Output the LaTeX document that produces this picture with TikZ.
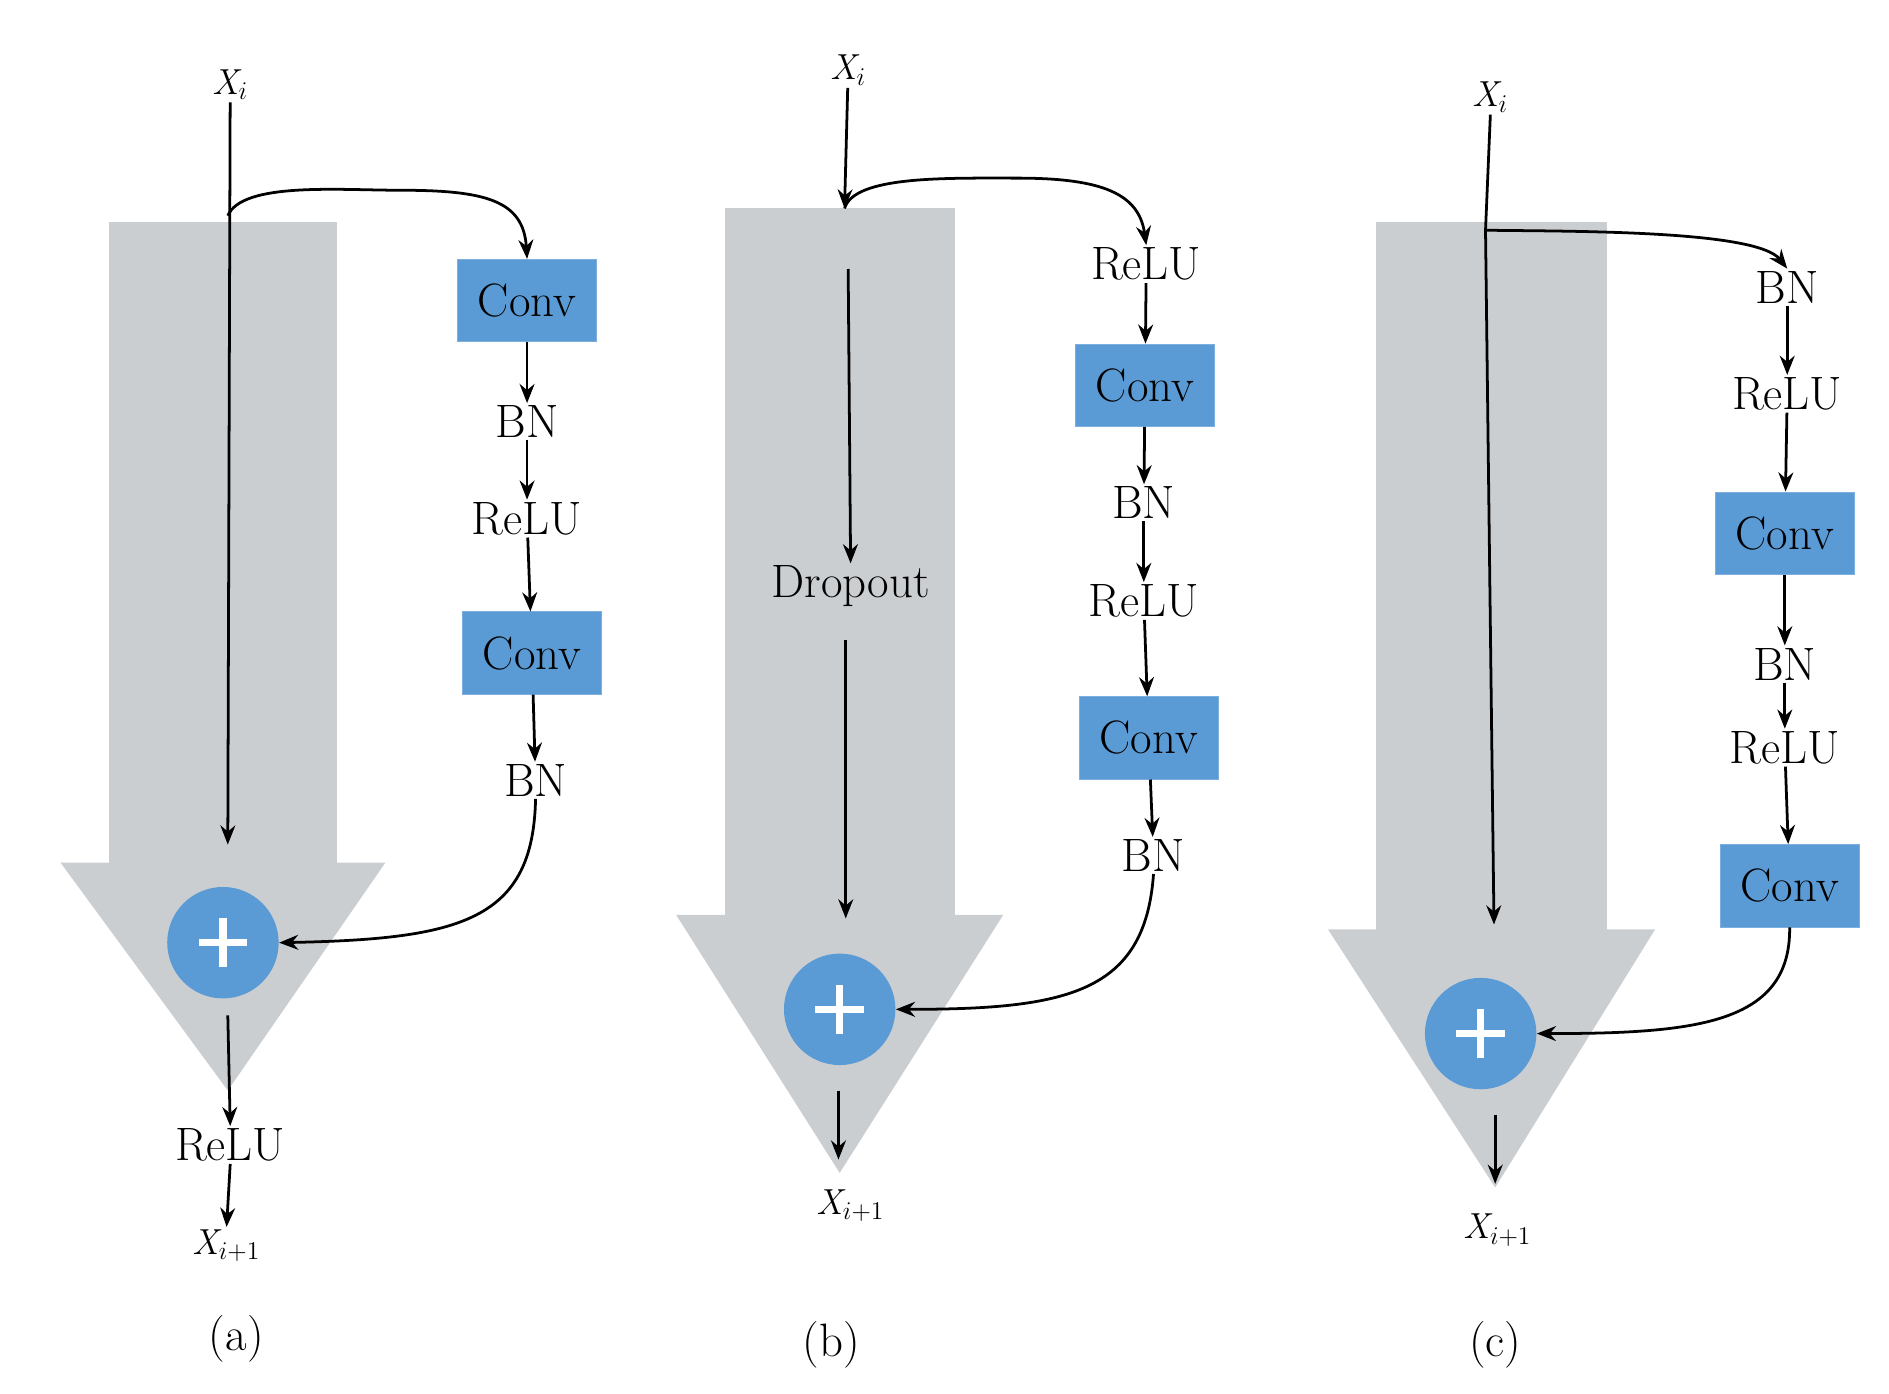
\documentclass[tikz,border=0pt]{standalone}
\usetikzlibrary{arrows.meta}
\definecolor{gr}{HTML}{CBCED1}
\definecolor{bl}{HTML}{5B9BD5}
\begin{document}
\begin{tikzpicture}[x=0.02cm,y=-0.02cm,
 ar/.style={-{Stealth[length=9pt,width=7pt]},line width=1.3pt},
 lb/.style={font=\fontsize{22}{26}\selectfont,inner sep=1pt},
 sm/.style={font=\fontsize{17}{20}\selectfont\itshape,inner sep=1pt},
 cv/.style={fill=bl,draw=bl!80!white,minimum width=2.3cm,minimum height=1.36cm,font=\fontsize{22}{26}\selectfont,inner sep=0pt},
 pl/.style={circle,fill=bl,minimum size=1.84cm,inner sep=0pt},
 pls/.style={white,line width=3.5pt}]
\useasboundingbox (0,0) rectangle (1559,1150);
% ---------- (a)
\fill[gr] (90,183) rectangle (278,717);
\fill[gr] (50,712) -- (318,712) -- (188,900) -- cycle;
\node[pl] (pa) at (184,778) {};
\draw[pls] (164,778)--(204,778) (184,758)--(184,798);
\node[sm] (xa) at (190,70) {X$_i$};
\coordinate (sa) at (188,178);
\coordinate (ea) at (188,697);
\draw[ar] (xa) -- (ea);
\node[cv] (ca1) at (435,248) {Conv};
\node[lb] (ba1) at (435,348) {BN};
\node[lb] (ra1) at (435,428) {ReLU};
\node[cv] (ca2) at (439,539) {Conv};
\node[lb] (ba2) at (442,644) {BN};
\draw[ar] (sa) .. controls (200,150) and (280,157) .. (330,157) .. controls (400,157) and (432,165) .. (ca1.north);
\draw[ar] (ca1) -- (ba1); \draw[ar] (ba1) -- (ra1); \draw[ar] (ra1) -- (ca2); \draw[ar] (ca2) -- (ba2);
\draw[ar] (ba2.south) .. controls (440,760) and (380,775) .. (pa.east);
\node[lb] (rea) at (190,945) {ReLU};
\node[sm] (xa2) at (187,1028) {X$_{i+1}$};
\coordinate (pab) at (188,838);
\draw[ar] (pab) -- (rea.north);
\draw[ar] (rea.south) -- (xa2.north);
\node[lb] at (195,1105) {(a)};
% ---------- (b)
\fill[gr] (598,172) rectangle (788,762);
\fill[gr] (558,755) -- (828,755) -- (693,968) -- cycle;
\node[pl] (pb) at (693,833) {};
\draw[pls] (673,833)--(713,833) (693,813)--(693,853);
\node[sm] (xb) at (700,58) {X$_i$};
\coordinate (sb) at (697,172);
\draw[ar] (xb) -- (sb);
\coordinate (d1) at (700,222);
\node[lb] (dr) at (702,484) {Dropout};
\coordinate (d2) at (698,528);
\coordinate (d3) at (698,758);
\draw[ar] (d1) -- (dr.north);
\draw[ar] (d2) -- (d3);
\node[lb] (rb1) at (946,218) {ReLU};
\node[cv] (cb1) at (945,318) {Conv};
\node[lb] (bb1) at (944,415) {BN};
\node[lb] (rb2) at (944,496) {ReLU};
\node[cv] (cb2) at (948,609) {Conv};
\node[lb] (bb2) at (952,706) {BN};
\draw[ar] (sb) .. controls (705,145) and (780,147) .. (840,147) .. controls (910,147) and (940,160) .. (rb1.north);
\draw[ar] (rb1) -- (cb1); \draw[ar] (cb1) -- (bb1); \draw[ar] (bb1) -- (rb2); \draw[ar] (rb2) -- (cb2); \draw[ar] (cb2) -- (bb2);
\draw[ar] (bb2.south) .. controls (945,820) and (880,833) .. (pb.east);
\coordinate (pbb) at (692,900);
\node[sm] (xb2) at (702,995) {X$_{i+1}$};
\coordinate (pbe) at (692,957);
\draw[ar] (pbb) -- (pbe);
\node[lb] at (686,1110) {(b)};
% ---------- (c)
\fill[gr] (1136,183) rectangle (1326,773);
\fill[gr] (1096,767) -- (1366,767) -- (1234,980) -- cycle;
\node[pl] (pc) at (1222,853) {};
\draw[pls] (1202,853)--(1242,853) (1222,833)--(1222,873);
\node[sm] (xc) at (1230,80) {X$_i$};
\coordinate (sc) at (1226,190);
\coordinate (ec) at (1233,763);
\draw[ar] (xc.south) -- (sc) -- (ec);
\node[lb] (bc1) at (1475,237) {BN};
\node[lb] (rc1) at (1475,325) {ReLU};
\node[cv] (cc1) at (1473,440) {Conv};
\node[lb] (bc2) at (1473,548) {BN};
\node[lb] (rc2) at (1473,617) {ReLU};
\node[cv] (cc2) at (1477,731) {Conv};
\draw[ar] (sc) .. controls (1300,191) and (1450,190) .. (bc1.north);
\draw[ar] (bc1) -- (rc1); \draw[ar] (rc1) -- (cc1); \draw[ar] (cc1) -- (bc2); \draw[ar] (bc2) -- (rc2); \draw[ar] (rc2) -- (cc2);
\draw[ar] (cc2.south) .. controls (1478,845) and (1400,853) .. (pc.east);
\coordinate (pcb) at (1234,920);
\coordinate (pce) at (1234,977);
\draw[ar] (pcb) -- (pce);
\node[sm] (xc2) at (1236,1015) {X$_{i+1}$};
\node[lb] at (1234,1110) {(c)};
\end{tikzpicture}
\end{document}
